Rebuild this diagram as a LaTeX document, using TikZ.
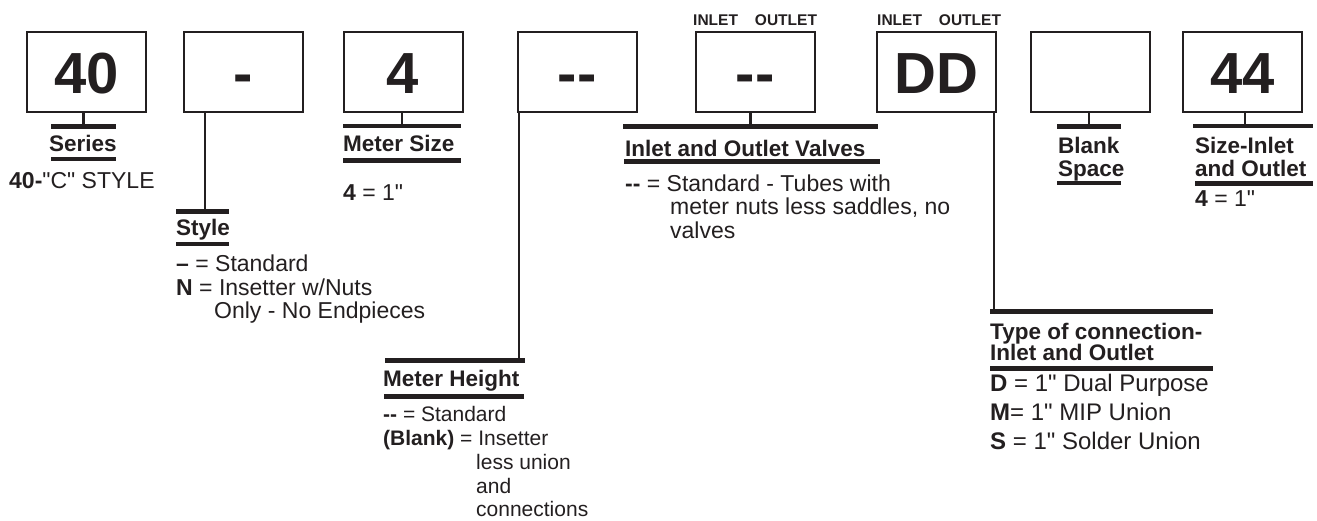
\documentclass[tikz,border=0pt]{standalone}
\usepackage{fontspec}
\setmainfont{Liberation Sans}[Ligatures=TeXOff]
\definecolor{ink}{HTML}{231F20}
\newcommand{\fsz}[1]{\fontsize{#1}{#1}\selectfont}
\begin{document}
\begin{tikzpicture}[x=1pt,y=-1pt,
  box/.style={draw=ink, line width=2pt, minimum width=119pt, minimum height=80pt,
    inner sep=0pt, text height=43pt, text depth=0pt, font=\fsz{58}\bfseries, text=ink},
  ubar/.style={fill=ink, draw=none, inner sep=0pt, minimum height=4.5pt},
  stem/.style={draw=ink, line width=2.2pt},
  ttl/.style={anchor=base west, inner sep=0pt, font=\fsz{22.5}\bfseries, text=ink},
  txt/.style={anchor=base west, inner sep=0pt, font=\fsz{23}, text=ink},
  txth/.style={anchor=base west, inner sep=0pt, font=\fsz{21}, text=ink},
  txtl/.style={anchor=base west, inner sep=0pt, font=\fsz{24}, text=ink},
  io/.style={anchor=base west, inner sep=0pt, font=\fsz{15.5}\bfseries, text=ink}]
\useasboundingbox (0,0) rectangle (1317,520);

% code boxes
\node[box] (b1) at (86.5,72) {40};
\node[box] (b2) at (243.5,72) {-};
\node[box] (b3) at (403,72) {4};
\node[box] (b4) at (577,72) {-{}-};
\node[box] (b5) at (755,72) {-{}-};
\node[box] (b6) at (936,72) {DD};
\node[box] (b7) at (1090.5,72) {};
\node[box] (b8) at (1242.5,72) {44};

\node[io] (io5) at (693,25) {INLET\hspace{17pt}OUTLET};
\node[io] (io6) at (877,25) {INLET\hspace{17pt}OUTLET};

% bars
\node[ubar, minimum width=65pt] (bar1t) at (83.5,126.3) {};
\node[ubar, minimum width=65pt] (bar1b) at (83.5,159) {};
\node[ubar, minimum width=53pt] (bar2t) at (202.5,211.3) {};
\node[ubar, minimum width=53pt] (bar2b) at (202.5,243.8) {};
\node[ubar, minimum width=118pt] (bar3t) at (402,126) {};
\node[ubar, minimum width=118pt] (bar3b) at (402,160.5) {};
\node[ubar, minimum width=140pt] (bar4t) at (455,360.5) {};
\node[ubar, minimum width=140pt] (bar4b) at (454,396.3) {};
\node[ubar, minimum width=255pt] (bar5t) at (750.5,126.5) {};
\node[ubar, minimum width=256pt] (bar5b) at (752,161.7) {};
\node[ubar, minimum width=223pt] (bar6t) at (1101.5,311.7) {};
\node[ubar, minimum width=223pt] (bar6b) at (1101.5,368.3) {};
\node[ubar, minimum width=64pt] (bar7t) at (1089,126.5) {};
\node[ubar, minimum width=64pt] (bar7b) at (1089,183) {};
\node[ubar, minimum width=120pt] (bar8t) at (1253.3,126.2) {};
\node[ubar, minimum width=118pt] (bar8b) at (1254,183.3) {};

% stems
\coordinate (s2) at ([xshift=2.5pt]bar2t.center);
\coordinate (s4) at ([xshift=-6pt]bar4t.east);
\coordinate (s6) at ([xshift=4pt]bar6t.west);
\coordinate (s8) at ([xshift=-8pt]bar8t.center);
\draw[stem] (bar1t.center |- b1.south) -- (bar1t.center);
\draw[stem] (s2 |- b2.south) -- (s2);
\draw[stem] (bar3t.center |- b3.south) -- (bar3t.center);
\draw[stem] (s4 |- b4.south) -- (s4);
\draw[stem] (bar5t.center |- b5.south) -- (bar5t.center);
\draw[stem] (s6 |- b6.south) -- (s6);
\draw[stem] (bar7t.center |- b7.south) -- (bar7t.center);
\draw[stem] (s8 |- b8.south) -- (s8);

% Series
\node[ttl] (t1) at (49,151.5) {Series};
\node[txt] (d1) at (9,188) {\textbf{40-}"C" STYLE};
% Style
\node[ttl] (t2) at (176,235) {Style};
\node[txt] (d2a) at (176,271) {\textbf{–} = Standard};
\node[txt] (d2b) at (176,295) {\textbf{N} = Insetter w/Nuts};
\node[txt] (d2c) at (214,318) {Only - No Endpieces};
% Meter Size
\node[ttl] (t3) at (343,151.7) {Meter Size};
\node[txt] (d3) at (343,200) {\textbf{4} = 1"};
% Meter Height
\node[ttl] (t4) at (383,386.7) {Meter Height};
\node[txth] (d4a) at (383,421.7) {\textbf{-{}-} = Standard};
\node[txth] (d4b) at (383,445) {\textbf{(Blank)} = Insetter};
\node[txth] (d4c) at (476,469) {less union};
\node[txth] (d4d) at (476,493) {and};
\node[txth] (d4e) at (476,516.7) {connections};
% Inlet and Outlet Valves
\node[ttl] (t5) at (625,156.7) {Inlet and Outlet Valves};
\node[txt] (d5a) at (625,191) {\textbf{-{}-} = Standard - Tubes with};
\node[txt] (d5b) at (670,214) {meter nuts less saddles, no};
\node[txt] (d5c) at (670,238) {valves};
% Type of connection
\node[ttl] (t6a) at (990,339) {Type of connection-};
\node[ttl] (t6b) at (990,360) {Inlet and Outlet};
\node[txtl] (d6a) at (990,391.7) {\textbf{D} = 1" Dual Purpose};
\node[txtl] (d6b) at (990,420) {\textbf{M}= 1" MIP Union};
\node[txtl] (d6c) at (990,449) {\textbf{S} = 1" Solder Union};
% Blank Space
\node[ttl] (t7a) at (1058,153) {Blank};
\node[ttl] (t7b) at (1058,176.7) {Space};
% Size-Inlet and Outlet
\node[ttl] (t8a) at (1195,153) {Size-Inlet};
\node[ttl] (t8b) at (1195,176.7) {and Outlet};
\node[txt] (d8) at (1195,206.5) {\textbf{4} = 1"};
\end{tikzpicture}
\end{document}
